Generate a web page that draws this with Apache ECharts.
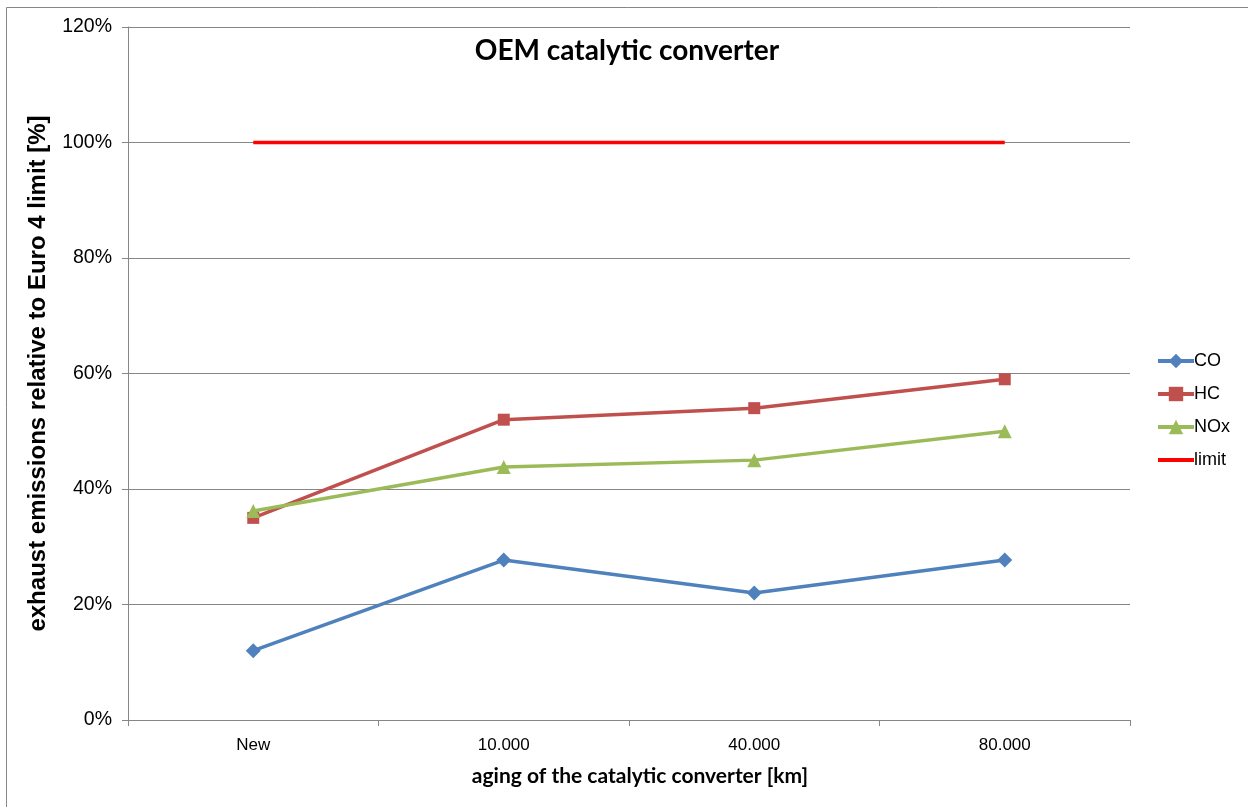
<!DOCTYPE html>
<html>
<head>
<meta charset="utf-8">
<script src="https://cdn.jsdelivr.net/npm/echarts@6/dist/echarts.min.js"></script>
<style>
  html, body { margin: 0; padding: 0; background: #fff; }
  #chart { width: 1248px; height: 807px; }
</style>
</head>
<body>
<div id="chart"></div>
<script>
// aging steps of the catalytic converter
const categories = ["New", "10.000", "40.000", "80.000"];
// emissions relative to Euro 4 limit, in %
const coValues = [12, 27.7, 22, 27.7];
const hcValues = [35, 52, 54, 59];
const noxValues = [36.2, 43.8, 45, 50];
const limitValues = [100, 100, 100, 100];

const myChart = echarts.init(document.getElementById("chart"));

const gray = "#868686";
const labelFont = "'Liberation Sans', Arial, sans-serif";
const titleFont = "Lato, 'Open Sans', sans-serif";

function lineSeries(name, data, color, symbol, size) {
  return {
    name: name,
    type: "line",
    data: data,
    symbol: symbol,
    symbolSize: size,
    showSymbol: symbol !== "none",
    lineStyle: { color: color, width: 3.5 },
    itemStyle: { color: color },
    emphasis: { disabled: true },
  };
}

const option = {
  animation: false,
  backgroundColor: "#fff",
  title: {
    text: "OEM catalytic converter",
    left: 622,
    top: 32,
    textAlign: "center",
    textStyle: {
      fontFamily: titleFont,
      fontWeight: "bold",
      fontSize: 28,
      color: "#000",
    },
  },
  legend: {
    orient: "vertical",
    left: 1151,
    top: 347,
    itemGap: 15,
    itemWidth: 36,
    itemHeight: 18,
    lineStyle: { width: 4 },
    textStyle: { fontFamily: labelFont, fontSize: 18, color: "#000", padding: [0, 0, 0, -5] },
    data: ["CO", "HC", "NOx", { name: "limit", itemStyle: { opacity: 0 } }],
  },
  graphic: [
    {
      type: "rect",
      shape: { x: 6.5, y: 7.5, width: 1400, height: 900 },
      style: { fill: "none", stroke: gray, lineWidth: 1 },
      silent: true,
    },
  ],
  grid: {
    left: 128,
    right: 118,
    top: 27,
    bottom: 87,
    containLabel: false,
  },
  xAxis: {
    type: "category",
    data: categories,
    boundaryGap: true,
    name: "aging of the catalytic converter [km]",
    nameLocation: "middle",
    nameGap: 46,
    nameTextStyle: {
      fontFamily: titleFont,
      fontWeight: "bold",
      fontSize: 21,
      color: "#000",
      padding: [0, 0, 0, 22],
    },
    axisLine: { lineStyle: { color: gray, width: 1 } },
    axisTick: { show: true, length: 6, lineStyle: { color: gray } },
    axisLabel: {
      margin: 17,
      fontFamily: labelFont,
      fontSize: 17,
      color: "#000",
    },
    splitLine: { show: false },
  },
  yAxis: {
    type: "value",
    min: 0,
    max: 120,
    interval: 20,
    name: "exhaust emissions relative to Euro 4 limit [%]",
    nameLocation: "middle",
    nameGap: 78,
    nameTextStyle: {
      fontFamily: labelFont,
      fontWeight: "bold",
      fontSize: 24,
      color: "#000",
    },
    axisLine: { show: true, lineStyle: { color: gray, width: 1 } },
    axisTick: { show: true, length: 6, lineStyle: { color: gray } },
    axisLabel: {
      formatter: "{value}%",
      margin: 16,
      fontFamily: labelFont,
      fontSize: 19.5,
      color: "#000",
    },
    splitLine: { show: true, lineStyle: { color: gray, width: 1 } },
  },
  series: [
    lineSeries("CO", coValues, "#4F81BD", "diamond", 15),
    lineSeries("HC", hcValues, "#C0504D", "rect", 12),
    lineSeries("NOx", noxValues, "#9BBB59", "triangle", 14),
    lineSeries("limit", limitValues, "#FF0000", "none", 0),
  ],
};

myChart.setOption(option);
</script>
</body>
</html>
